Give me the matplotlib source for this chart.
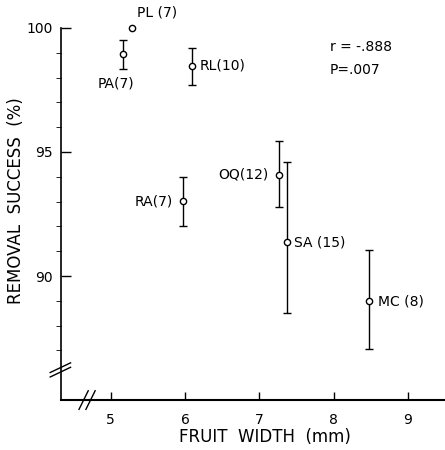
import matplotlib.pyplot as plt
import numpy as np

# Fruit width vs. removal success, per plant species (n in parentheses)
species = ["PL (7)", "PA(7)", "RL(10)", "RA(7)", "OQ(12)", "SA (15)", "MC (8)"]
fruit_width = [5.28, 5.17, 6.10, 5.97, 7.27, 7.37, 8.48]
removal = [100.0, 98.94, 98.47, 93.02, 94.09, 91.37, 88.98]
err_low = [0.0, 0.59, 0.77, 1.02, 1.29, 2.87, 1.93]
err_high = [0.0, 0.56, 0.73, 0.98, 1.36, 3.23, 2.07]
has_err = [False, True, True, True, True, True, True]

x_ticks = [5, 6, 7, 8, 9]
y_major = [90, 95, 100]
y_minor = [87, 88, 89, 91, 92, 93, 94, 96, 97, 98, 99]

# label placement (offset in points, alignment)
label_pos = {
    "PL (7)": ((4, 6), "left", "bottom"),
    "PA(7)": ((-5, -21), "center", "center"),
    "RL(10)": ((5, 0), "left", "center"),
    "RA(7)": ((-7, 0), "right", "center"),
    "OQ(12)": ((-8, 0), "right", "center"),
    "SA (15)": ((5, 0), "left", "center"),
    "MC (8)": ((6, 0), "left", "center"),
}

plt.rcParams['font.family'] = ['DejaVu Sans']

fig = plt.figure(figsize=(4.45, 4.5), dpi=100)
ax = fig.add_axes([0.137, 0.111, 0.863, 0.827])

for i, name in enumerate(species):
    if has_err[i]:
        ax.errorbar(fruit_width[i], removal[i],
                    yerr=[[err_low[i]], [err_high[i]]],
                    fmt='o', mfc='white', mec='black', ms=4.5, mew=1.0,
                    ecolor='black', elinewidth=1.0, capsize=3, capthick=1.0,
                    clip_on=False, zorder=3)
    else:
        ax.plot(fruit_width[i], removal[i], 'o', mfc='white', mec='black',
                ms=4.5, mew=1.0, clip_on=False, zorder=3)
    off, ha, va = label_pos[name]
    ax.annotate(name, (fruit_width[i], removal[i]), xytext=off,
                textcoords='offset points', ha=ha, va=va, fontsize=10)

ax.text(0.70, 0.95, "r = -.888", transform=ax.transAxes, fontsize=10,
        va='center', ha='left')
ax.text(0.70, 0.887, "P=.007", transform=ax.transAxes, fontsize=10,
        va='center', ha='left')

ax.set_xlim(4.33, 9.5)
ax.set_ylim(85, 100)

ax.spines['top'].set_visible(False)
ax.spines['right'].set_visible(False)
ax.spines['left'].set_linewidth(1.2)
ax.spines['bottom'].set_linewidth(1.5)

ax.set_xticks(x_ticks)
ax.set_yticks(y_major)
ax.set_yticks(y_minor, minor=True)
ax.tick_params(axis='both', direction='in', labelsize=10, width=1.0)
ax.tick_params(axis='y', which='major', length=7, pad=6)
ax.tick_params(axis='y', which='minor', length=3.5)
ax.tick_params(axis='x', which='major', length=6, pad=9)

ax.set_xlabel("FRUIT  WIDTH  (mm)", fontsize=12)
ax.set_ylabel("REMOVAL  SUCCESS  (%)", fontsize=12)
ax.xaxis.set_label_coords(0.53, -0.075)
ax.yaxis.set_label_coords(-0.094, 0.535)

# axis break marks
for d in (-0.006, 0.006):
    ax.plot([-0.028, 0.025], [0.068 + d, 0.094 + d], transform=ax.transAxes,
            color='black', lw=1.0, clip_on=False)
    ax.plot([0.056 + d * 1.5, 0.08 + d * 1.5], [-0.025, 0.025],
            transform=ax.transAxes, color='black', lw=1.0, clip_on=False)

fig.savefig("out.png", dpi=100)
